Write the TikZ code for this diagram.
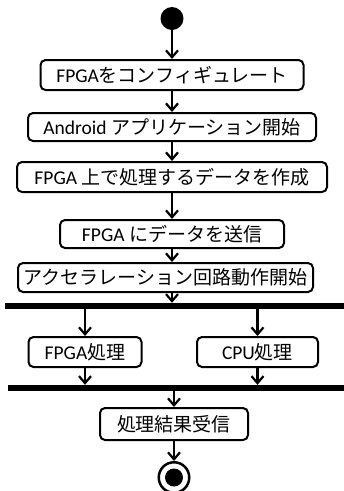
\documentclass[tikz,border=0pt]{standalone}
\usepackage{fontspec}
\setmainfont{Carlito}
\newfontfamily\jp{Noto Sans CJK JP}
\usetikzlibrary{arrows.meta,calc}
\newcommand\J[1]{{\jp\fontsize{19}{22}\selectfont #1}}
\begin{document}
\begin{tikzpicture}[x=1pt,y=-1pt,
  box/.style={draw,line width=2pt,rounded corners=5pt,inner sep=0pt,font=\fontsize{19.5}{22}\selectfont},
  bar/.style={fill=black,inner sep=0pt,minimum height=6pt},
  arr/.style={line width=2.2pt,-{Straight Barb[length=7pt,width=12pt,line width=2.2pt]}}]
\useasboundingbox (0,0) rectangle (344,491);
\node[circle,fill=black,minimum size=23pt,inner sep=0pt] (start) at (172,18.5) {};
\node[box,minimum width=263pt,minimum height=30pt] (b1) at (172,75) {FPGA\J{をコンフィギュレート}};
\node[box,minimum width=288pt,minimum height=28pt] (b2) at (172,127) {Android \J{アプリケーション開始}};
\node[box,minimum width=310pt,minimum height=30pt] (b3) at (172,177) {FPGA \J{上で処理するデータを作成}};
\node[box,minimum width=224pt,minimum height=28pt] (b4) at (172,234) {FPGA \J{にデータを送信}};
\node[box,minimum width=295pt,minimum height=29pt] (b5) at (165.5,277.5) {\J{アクセラレーション回路動作開始}};
\node[bar,minimum width=339pt] (bar1) at (174.5,306) {};
\node[box,minimum width=113pt,minimum height=30pt] (fp) at (85,352) {FPGA\J{処理}};
\node[box,minimum width=121pt,minimum height=30pt] (cpu) at (257.5,352) {CPU\J{処理}};
\node[bar,minimum width=336pt] (bar2) at (176,388) {};
\node[box,minimum width=148pt,minimum height=32pt] (b6) at (174,424) {\J{処理結果受信}};
\node[circle,draw,line width=2.5pt,minimum size=30.5pt,inner sep=0pt] (end) at (174,477.5) {};
\node[circle,fill=black,minimum size=18pt,inner sep=0pt] (endin) at (end.center) {};
\coordinate (ax) at (172,0);
\draw[arr] (start.south) -- (start.south |- b1.north);
\draw[arr] (ax |- b1.south) -- (ax |- b2.north);
\draw[arr] (ax |- b2.south) -- (ax |- b3.north);
\draw[arr] (ax |- b3.south) -- (ax |- b4.north);
\draw[arr] (ax |- b4.south) -- (ax |- b5.north);
\draw[arr] (ax |- b5.south) -- (ax |- bar1.north);
\draw[arr] (fp.north |- bar1.south) -- (fp.north);
\draw[arr] (cpu.north |- bar1.south) -- (cpu.north);
\draw[arr] (fp.south) -- (fp.south |- bar2.north);
\draw[arr] (cpu.south) -- (cpu.south |- bar2.north);
\draw[arr] (b6.north |- bar2.south) -- (b6.north);
\draw[arr] (b6.south) -- (end.north);
\end{tikzpicture}
\end{document}
